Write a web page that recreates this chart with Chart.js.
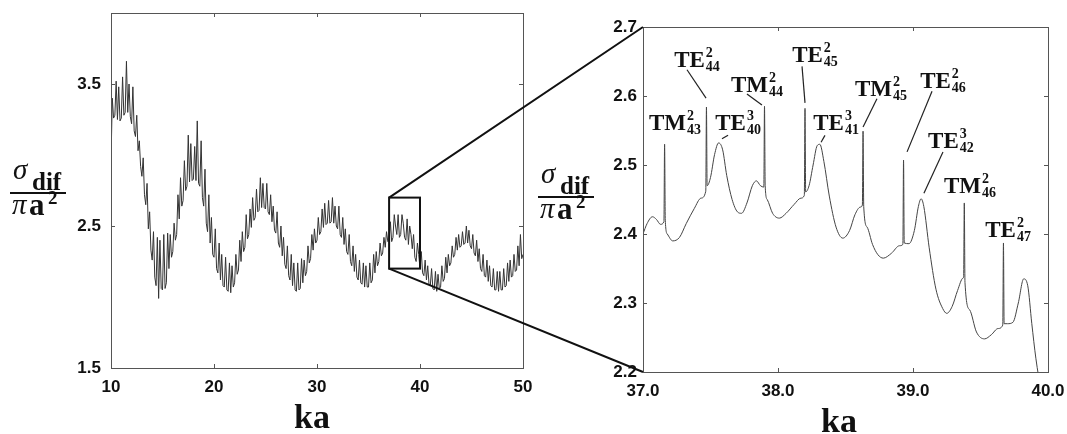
<!DOCTYPE html>
<html>
<head>
<meta charset="utf-8">
<script src="https://cdn.jsdelivr.net/npm/chart.js@4.4.0/dist/chart.umd.min.js"></script>
<style>
  body { margin: 0; background: #fff; width: 1067px; height: 434px; overflow: hidden; position: relative; }
  #wide { position: absolute; left: -20px; top: -20px; }
  #zoom { position: absolute; left: 520px; top: -20px; }
  #links { position: absolute; left: 0; top: 0; pointer-events: none; }
  .t { position: absolute; font-family: "Liberation Serif", "DejaVu Serif", serif; color: #111; line-height: 1; white-space: nowrap; }
  .bar { position: absolute; height: 2px; background: #111; }
</style>
</head>
<body>
<canvas id="wide" width="580" height="474"></canvas>
<canvas id="zoom" width="560" height="474"></canvas>
<canvas id="links" width="1067" height="434"></canvas>

<!-- y axis titles: sigma_dif / pi a^2 -->
<span class="t" style="left:13px; top:155px; font-size:29px; font-style:italic;">σ</span>
<span class="t" style="left:32px; top:169px; font-size:25px; font-weight:bold;">dif</span>
<div class="bar" style="left:10px; top:192px; width:56px;"></div>
<span class="t" style="left:12px; top:190px; font-size:29px; font-style:italic;">π</span>
<span class="t" style="left:29px; top:189px; font-size:31px; font-weight:bold;">a</span>
<span class="t" style="left:48px; top:188px; font-size:19px; font-weight:bold;">2</span>

<span class="t" style="left:541px; top:159px; font-size:29px; font-style:italic;">σ</span>
<span class="t" style="left:560px; top:173px; font-size:25px; font-weight:bold;">dif</span>
<div class="bar" style="left:538px; top:196px; width:56px;"></div>
<span class="t" style="left:540px; top:194px; font-size:29px; font-style:italic;">π</span>
<span class="t" style="left:557px; top:193px; font-size:31px; font-weight:bold;">a</span>
<span class="t" style="left:576px; top:192px; font-size:19px; font-weight:bold;">2</span>

<span class="t" style="left:294px; top:400px; font-size:34px; font-weight:bold;">ka</span>
<span class="t" style="left:821px; top:404px; font-size:34px; font-weight:bold;">ka</span>

<script>
// ---------- wide scan, ka = 10 .. 50, one value every 0.125 (8 per row = 1 ka) ----------
const leftKaStart = 10;
const leftKaStep = 0.125;
const leftSigma = [
  2.95, 3.40, 3.26, 3.28, 3.52, 3.25, 3.48, 3.24,   // 10
  3.26, 3.55, 3.28, 3.30, 3.66, 3.30, 3.50, 3.27,   // 11
  3.22, 3.48, 3.17, 3.13, 3.28, 3.03, 3.10, 2.92,   // 12
  2.85, 2.98, 2.72, 2.65, 2.80, 2.48, 2.60, 2.33,   // 13
  2.26, 2.46, 2.14, 2.08, 2.42, 1.99, 2.40, 2.06,   // 14
  2.05, 2.44, 2.06, 2.10, 2.45, 2.20, 2.44, 2.28,   // 15
  2.32, 2.52, 2.40, 2.44, 2.72, 2.55, 2.84, 2.64,   // 16
  2.68, 2.96, 2.75, 2.78, 3.14, 2.81, 3.08, 2.82,   // 17
  2.83, 3.06, 2.82, 3.24, 2.80, 2.78, 3.10, 2.70,   // 18
  2.64, 2.90, 2.52, 2.46, 2.72, 2.38, 2.56, 2.30,   // 19
  2.28, 2.48, 2.20, 2.17, 2.38, 2.12, 2.30, 2.08,   // 20
  2.07, 2.28, 2.05, 2.04, 2.24, 2.03, 2.22, 2.07,   // 21
  2.10, 2.30, 2.16, 2.19, 2.40, 2.25, 2.46, 2.32,   // 22
  2.35, 2.58, 2.41, 2.44, 2.62, 2.49, 2.70, 2.54,   // 23
  2.56, 2.76, 2.60, 2.61, 2.84, 2.63, 2.80, 2.63,   // 24
  2.62, 2.80, 2.60, 2.58, 2.72, 2.53, 2.64, 2.47,   // 25
  2.45, 2.60, 2.38, 2.35, 2.50, 2.29, 2.42, 2.23,   // 26
  2.20, 2.36, 2.15, 2.12, 2.30, 2.08, 2.24, 2.05,   // 27
  2.04, 2.24, 2.05, 2.06, 2.27, 2.10, 2.26, 2.15,   // 28
  2.18, 2.36, 2.24, 2.27, 2.44, 2.33, 2.48, 2.38,   // 29
  2.40, 2.56, 2.44, 2.46, 2.62, 2.49, 2.66, 2.51,   // 30
  2.52, 2.68, 2.52, 2.53, 2.70, 2.52, 2.64, 2.50,   // 31
  2.48, 2.64, 2.44, 2.42, 2.56, 2.37, 2.48, 2.32,   // 32
  2.30, 2.44, 2.25, 2.22, 2.36, 2.18, 2.30, 2.14,   // 33
  2.12, 2.26, 2.10, 2.09, 2.24, 2.07, 2.22, 2.07,   // 34
  2.07, 2.24, 2.10, 2.12, 2.30, 2.17, 2.32, 2.22,   // 35
  2.25, 2.38, 2.29, 2.31, 2.42, 2.35, 2.46, 2.39,   // 36
  2.40, 2.53, 2.39, 2.42, 2.58, 2.50, 2.44, 2.58,   // 37
  2.42, 2.44, 2.58, 2.52, 2.42, 2.40, 2.55, 2.37,   // 38
  2.50, 2.44, 2.34, 2.44, 2.28, 2.25, 2.38, 2.30,   // 39
  2.20, 2.32, 2.17, 2.15, 2.26, 2.12, 2.22, 2.09,   // 40
  2.08, 2.20, 2.06, 2.05, 2.18, 2.04, 2.16, 2.06,   // 41
  2.07, 2.22, 2.11, 2.13, 2.28, 2.17, 2.30, 2.22,   // 42
  2.24, 2.36, 2.28, 2.30, 2.42, 2.33, 2.44, 2.35,   // 43
  2.36, 2.46, 2.37, 2.38, 2.50, 2.38, 2.47, 2.36,   // 44
  2.34, 2.44, 2.31, 2.29, 2.40, 2.25, 2.34, 2.20,   // 45
  2.18, 2.30, 2.15, 2.14, 2.26, 2.11, 2.22, 2.08,   // 46
  2.07, 2.20, 2.05, 2.05, 2.18, 2.04, 2.18, 2.05,   // 47
  2.05, 2.20, 2.07, 2.08, 2.24, 2.11, 2.26, 2.14,   // 48
  2.15, 2.30, 2.18, 2.19, 2.36, 2.22, 2.44, 2.27,   // 49
  2.30                                              // 50
];
const leftXTicks = [10, 20, 30, 40, 50];
const leftYTicks = [1.5, 2.5, 3.5];

// ---------- zoomed window ka = 37 .. 40 ----------
const rightKa = [
  37.00, 37.03, 37.07, 37.10, 37.13, 37.155, 37.16, 37.165, 37.18, 37.22,
  37.27, 37.32, 37.38, 37.43, 37.465, 37.47, 37.475, 37.50, 37.53, 37.56,
  37.59, 37.62, 37.66, 37.70, 37.73, 37.77, 37.81, 37.84, 37.87, 37.895,
  37.90, 37.905, 37.92, 37.96, 38.01, 38.06, 38.12, 38.17, 38.195, 38.20,
  38.205, 38.23, 38.26, 38.29, 38.31, 38.34, 38.38, 38.43, 38.48, 38.53,
  38.57, 38.61, 38.625, 38.63, 38.635, 38.66, 38.70, 38.74, 38.78, 38.84,
  38.90, 38.925, 38.93, 38.935, 38.97, 39.01, 39.04, 39.06, 39.08, 39.12,
  39.17, 39.22, 39.25, 39.29, 39.33, 39.37, 39.375, 39.38, 39.385, 39.42,
  39.47, 39.53, 39.58, 39.63, 39.665, 39.67, 39.675, 39.70, 39.74, 39.78,
  39.82, 39.85, 39.88, 39.91, 39.95
];
const rightSigma = [
  2.400, 2.415, 2.425, 2.421, 2.414, 2.418, 2.530, 2.420, 2.400, 2.390,
  2.395, 2.415, 2.437, 2.452, 2.462, 2.584, 2.470, 2.482, 2.515, 2.532,
  2.522, 2.485, 2.450, 2.432, 2.430, 2.445, 2.470, 2.477, 2.470, 2.468,
  2.585, 2.470, 2.450, 2.430, 2.423, 2.430, 2.443, 2.452, 2.456, 2.582,
  2.461, 2.470, 2.500, 2.528, 2.530, 2.505, 2.455, 2.410, 2.394, 2.405,
  2.428, 2.439, 2.442, 2.549, 2.440, 2.410, 2.385, 2.370, 2.365, 2.372,
  2.383, 2.385, 2.507, 2.387, 2.386, 2.405, 2.440, 2.451, 2.440, 2.380,
  2.320, 2.292, 2.285, 2.295, 2.318, 2.336, 2.338, 2.445, 2.330, 2.290,
  2.258, 2.248, 2.254, 2.263, 2.268, 2.387, 2.270, 2.270, 2.272, 2.300,
  2.335, 2.325, 2.270, 2.220, 2.170
];
const rightXTicks = [37, 38, 39, 40];
const rightYTicks = [2.2, 2.3, 2.4, 2.5, 2.6, 2.7];

// resonance labels: mode, superscript, subscript, text anchor (ka, sigma), leader line
const modeNames = ['TM', 'TE', 'TM', 'TE', 'TE', 'TE', 'TM', 'TE', 'TE', 'TM', 'TE'];
const modeSup   = ['2', '2', '2', '3', '2', '3', '2', '2', '3', '2', '2'];
const modeSub   = ['43', '44', '44', '40', '45', '41', '45', '46', '42', '46', '47'];
const labelKa    = [37.237, 37.40, 37.844, 37.704, 38.274, 38.43, 38.763, 39.222, 39.281, 39.422, 39.704];
const labelSigma = [2.551, 2.642, 2.606, 2.551, 2.649, 2.551, 2.600, 2.612, 2.525, 2.459, 2.396];
const leaders = [
  null,
  [37.326, 2.638, 37.467, 2.597],
  [37.770, 2.603, 37.881, 2.587],
  [37.630, 2.543, 37.585, 2.538],
  [38.178, 2.643, 38.200, 2.590],
  [38.348, 2.543, 38.319, 2.533],
  [38.733, 2.596, 38.630, 2.555],
  [39.141, 2.607, 38.956, 2.519],
  [39.222, 2.519, 39.081, 2.459],
  null,
  null
];

// inset box drawn on the wide scan
const insetKa = [37, 40];
const insetSigma = [2.2, 2.7];

const tickFont = { family: '"Liberation Sans", Arial, sans-serif', size: 17, weight: 'bold' };

// box round the plot area with short inward ticks on all four sides
const framePlugin = {
  id: 'frame',
  afterDatasetsDraw(chart) {
    const { ctx, chartArea: a, scales } = chart;
    ctx.save();
    ctx.strokeStyle = '#555';
    ctx.lineWidth = 1;
    ctx.strokeRect(Math.round(a.left) + 0.5, Math.round(a.top) + 0.5, Math.round(a.width), Math.round(a.height));
    ctx.beginPath();
    scales.x.ticks.forEach(t => {
      const px = Math.round(scales.x.getPixelForValue(t.value)) + 0.5;
      ctx.moveTo(px, a.bottom); ctx.lineTo(px, a.bottom - 4);
      ctx.moveTo(px, a.top); ctx.lineTo(px, a.top + 4);
    });
    scales.y.ticks.forEach(t => {
      const py = Math.round(scales.y.getPixelForValue(t.value)) + 0.5;
      ctx.moveTo(a.left, py); ctx.lineTo(a.left + 4, py);
      ctx.moveTo(a.right, py); ctx.lineTo(a.right - 4, py);
    });
    ctx.stroke();
    ctx.restore();
  }
};

// TE / TM labels with leader lines in the zoomed window
const modePlugin = {
  id: 'modes',
  afterDatasetsDraw(chart) {
    const { ctx, scales } = chart;
    ctx.save();
    ctx.fillStyle = '#111';
    ctx.strokeStyle = '#222';
    ctx.lineWidth = 1.2;
    modeNames.forEach((name, i) => {
      const cx = scales.x.getPixelForValue(labelKa[i]);
      const by = scales.y.getPixelForValue(labelSigma[i]);
      ctx.font = 'bold 23px "Liberation Serif", serif';
      const wMain = ctx.measureText(name).width;
      ctx.font = 'bold 14px "Liberation Serif", serif';
      const wSmall = Math.max(ctx.measureText(modeSup[i]).width, ctx.measureText(modeSub[i]).width);
      const x0 = cx - (wMain + wSmall + 1) / 2;
      ctx.textBaseline = 'alphabetic';
      ctx.font = 'bold 23px "Liberation Serif", serif';
      ctx.fillText(name, x0, by);
      ctx.font = 'bold 14px "Liberation Serif", serif';
      ctx.fillText(modeSup[i], x0 + wMain + 1, by - 10);
      ctx.fillText(modeSub[i], x0 + wMain + 1, by + 4);
      const l = leaders[i];
      if (l) {
        ctx.beginPath();
        ctx.moveTo(scales.x.getPixelForValue(l[0]), scales.y.getPixelForValue(l[1]));
        ctx.lineTo(scales.x.getPixelForValue(l[2]), scales.y.getPixelForValue(l[3]));
        ctx.stroke();
      }
    });
    ctx.restore();
  }
};

function makeAxes(xMin, xMax, yMin, yMax, xTicks, yTicks, yWidth, xHeight, xLabel, yLabel, yPad) {
  return {
    x: {
      type: 'linear', min: xMin, max: xMax,
      grid: { display: false, drawTicks: false },
      border: { display: false },
      afterBuildTicks: s => { s.ticks = xTicks.map(v => ({ value: v })); },
      afterFit: s => { s.height = xHeight; },
      ticks: { color: '#111', font: tickFont, padding: 9, maxRotation: 0, autoSkip: false, callback: xLabel }
    },
    y: {
      type: 'linear', min: yMin, max: yMax,
      grid: { display: false, drawTicks: false },
      border: { display: false },
      afterBuildTicks: s => { s.ticks = yTicks.map(v => ({ value: v })); },
      afterFit: s => { s.width = yWidth; },
      ticks: { color: '#111', font: tickFont, padding: yPad, autoSkip: false, callback: yLabel }
    }
  };
}

const commonOptions = {
  responsive: false,
  animation: false,
  devicePixelRatio: 1,
  plugins: { legend: { display: false }, tooltip: { enabled: false } },
  elements: { point: { radius: 0 } }
};

// canvases stick out 20px past the page so the plot boxes land where the figure has them
const wideOffset = { x: -20, y: -20 };
const zoomOffset = { x: 520, y: -20 };

const wideChart = new Chart(document.getElementById('wide'), {
  type: 'line',
  data: {
    datasets: [{
      data: leftSigma.map((v, i) => ({ x: leftKaStart + i * leftKaStep, y: v })),
      borderColor: '#333',
      borderWidth: 1,
      tension: 0,
      fill: false
    }]
  },
  options: Object.assign({}, commonOptions, {
    layout: { padding: { left: 0, top: 33, right: 37, bottom: 20 } },
    scales: makeAxes(10, 50, 1.5, 4.0, leftXTicks, leftYTicks, 131, 66,
      v => String(v), v => v.toFixed(1), 10)
  }),
  plugins: [framePlugin]
});

const zoomChart = new Chart(document.getElementById('zoom'), {
  type: 'line',
  data: {
    datasets: [{
      data: rightKa.map((k, i) => ({ x: k, y: rightSigma[i] })),
      borderColor: '#444',
      borderWidth: 1,
      cubicInterpolationMode: 'monotone',
      fill: false
    }]
  },
  options: Object.assign({}, commonOptions, {
    layout: { padding: { left: 0, top: 47, right: 32, bottom: 20 } },
    scales: makeAxes(37, 40, 2.2, 2.7, rightXTicks, rightYTicks, 123, 62,
      v => v.toFixed(1), v => v.toFixed(1), 6)
  }),
  plugins: [framePlugin, modePlugin]
});

// inset rectangle and the two lines joining it to the zoomed window
function drawLinks() {
  const ctx = document.getElementById('links').getContext('2d');
  const wx = wideChart.scales.x, wy = wideChart.scales.y;
  const zx = zoomChart.scales.x, zy = zoomChart.scales.y;
  const rx0 = wideOffset.x + wx.getPixelForValue(insetKa[0]);
  const rx1 = wideOffset.x + wx.getPixelForValue(insetKa[1]);
  const ry0 = wideOffset.y + wy.getPixelForValue(insetSigma[1]);
  const ry1 = wideOffset.y + wy.getPixelForValue(insetSigma[0]);
  const zx0 = zoomOffset.x + zx.getPixelForValue(insetKa[0]);
  ctx.strokeStyle = '#111';
  ctx.lineWidth = 2;
  ctx.strokeRect(rx0, ry0, rx1 - rx0, ry1 - ry0);
  ctx.beginPath();
  ctx.moveTo(rx0, ry0);
  ctx.lineTo(zx0, zoomOffset.y + zy.getPixelForValue(insetSigma[1]));
  ctx.moveTo(rx0, ry1);
  ctx.lineTo(zx0, zoomOffset.y + zy.getPixelForValue(insetSigma[0]));
  ctx.stroke();
}
drawLinks();
</script>
</body>
</html>
